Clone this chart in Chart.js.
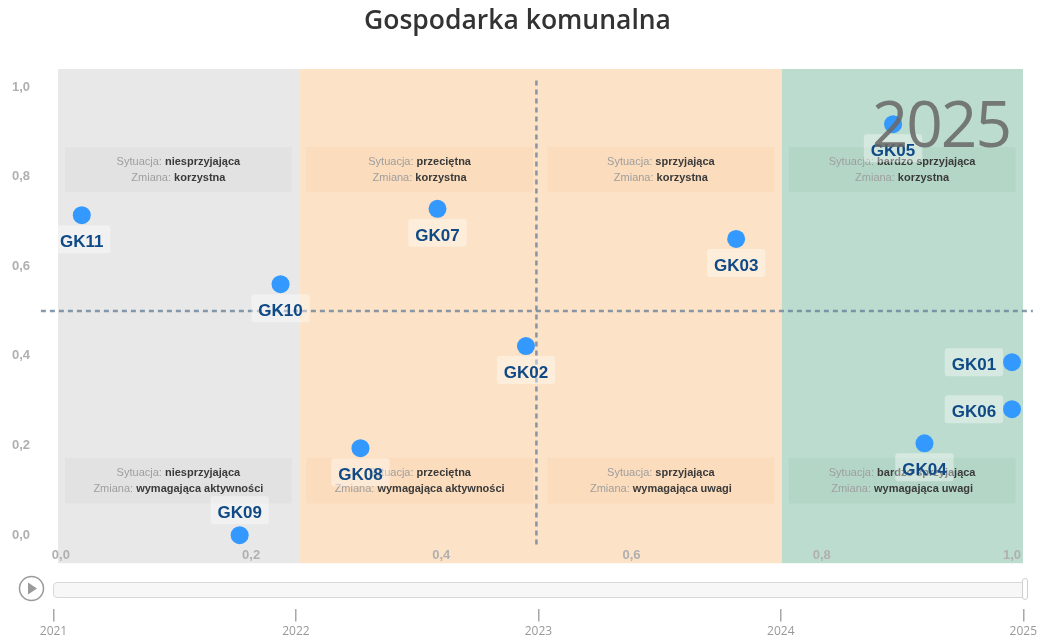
<!DOCTYPE html>
<html lang="pl">
<head>
<meta charset="utf-8">
<title>Gospodarka komunalna</title>
<script src="https://cdn.jsdelivr.net/npm/chart.js@4.4.1/dist/chart.umd.min.js"></script>
<style>
  html, body { margin: 0; padding: 0; background: #fff; }
  body { width: 1040px; height: 639px; position: relative; overflow: hidden; font-family: 'Open Sans', sans-serif; }
  #main { position: absolute; left: 0; top: 0; }
  #years { position: absolute; left: 0; top: 572px; }
  .play { position: absolute; left: 18px; top: 575px; }
  .track { position: absolute; left: 53px; top: 582px; width: 972px; height: 14px;
           background: #f7f7f7; border: 1px solid #d8d8d8; border-radius: 4px; }
  .handle { position: absolute; left: 1022px; top: 578px; width: 4px; height: 20px;
            background: #fff; border: 1px solid #cfcfcf; border-radius: 3px; }
</style>
</head>
<body>
<canvas id="main" width="1040" height="574"></canvas>
<canvas id="years" width="1040" height="70"></canvas>

<svg class="play" width="27" height="27" viewBox="0 0 27 27">
  <circle cx="13.5" cy="13.5" r="12" fill="#fff" stroke="#9a9a9a" stroke-width="1.5"/>
  <path d="M10 7.5 L19 13.5 L10 19.5 Z" fill="#9a9a9a"/>
</svg>
<div class="track"></div>
<div class="handle"></div>

<script>
// ------------------------------------------------------------
//  data
// ------------------------------------------------------------
const codes   = ['GK01', 'GK02', 'GK03', 'GK04', 'GK05', 'GK06', 'GK07', 'GK08', 'GK09', 'GK10', 'GK11'];
const xVals   = [1.0,   0.489, 0.710, 0.908, 0.875, 1.0,   0.396, 0.315, 0.188, 0.231, 0.022];
const yVals   = [0.386, 0.422, 0.661, 0.205, 0.917, 0.281, 0.728, 0.194, 0.0,   0.560, 0.714];
const labelAt = ['left', 'below', 'below', 'below', 'below', 'left', 'below', 'below', 'above', 'below', 'below'];

const axisTicks = [0, 0.2, 0.4, 0.6, 0.8, 1.0];
const midValue  = 0.5;
const midSpan   = [-0.021, 1.022];

const situations = ['niesprzyjająca', 'przeciętna', 'sprzyjająca', 'bardzo sprzyjająca'];
const changesTop = ['korzystna', 'korzystna', 'korzystna', 'korzystna'];
const changesBot = ['wymagająca aktywności', 'wymagająca aktywności', 'wymagająca uwagi', 'wymagająca uwagi'];

const years     = [2021, 2022, 2023, 2024, 2025];
const frameYear = '2025';

// ------------------------------------------------------------
//  look
// ------------------------------------------------------------
const bands = [
  { from: 0,    to: 0.25, fill: '#e8e8e8', box: 'rgba(0,0,0,0.025)' },
  { from: 0.25, to: 0.75, fill: '#fce2c6', box: 'rgba(245,185,120,0.12)' },
  { from: 0.75, to: 1,    fill: '#bcdccf', box: 'rgba(90,150,120,0.08)' },
];
const SANS = "'Liberation Sans', Arial, sans-serif";
const fmt  = v => v.toFixed(1).replace('.', ',');

function rrect(ctx, x, y, w, h, r) {
  ctx.beginPath();
  ctx.moveTo(x + r, y);
  ctx.arcTo(x + w, y, x + w, y + h, r);
  ctx.arcTo(x + w, y + h, x, y + h, r);
  ctx.arcTo(x, y + h, x, y, r);
  ctx.arcTo(x, y, x + w, y, r);
  ctx.closePath();
}

// background bands (paper fractions of the plot area)
const bandPlugin = {
  id: 'bands',
  beforeDraw(chart) {
    const { ctx, chartArea: a } = chart;
    const w = a.right - a.left;
    ctx.save();
    bands.forEach(b => {
      ctx.fillStyle = b.fill;
      ctx.fillRect(a.left + b.from * w, a.top, (b.to - b.from) * w, a.bottom - a.top);
    });
    ctx.restore();
  }
};

// quadrant description boxes
const quadPlugin = {
  id: 'quads',
  beforeDatasetsDraw(chart) {
    const { ctx, chartArea: a } = chart;
    const w = a.right - a.left, h = a.bottom - a.top, q = w / 4;
    const rows = [
      { top: 0.158, bot: 0.249, texts: changesTop },
      { top: 0.787, bot: 0.879, texts: changesBot },
    ];
    ctx.save();
    rows.forEach(r => {
      situations.forEach((s, i) => {
        const bx = a.left + i * q + 7, bw = q - 14.5;
        const by = a.top + r.top * h, bh = (r.bot - r.top) * h;
        const band = bands.find(b => (i + 0.5) / 4 >= b.from && (i + 0.5) / 4 <= b.to);
        ctx.fillStyle = band.box;
        ctx.fillRect(bx, by, bw, bh);
        const cx = bx + bw / 2, cy = by + bh / 2;
        drawPair(ctx, 'Sytuacja: ', s, cx, cy - 8);
        drawPair(ctx, 'Zmiana: ', r.texts[i], cx, cy + 8);
      });
    });
    ctx.restore();
  }
};

function drawPair(ctx, lead, val, cx, cy) {
  ctx.textBaseline = 'middle';
  ctx.textAlign = 'left';
  ctx.font = '11px ' + SANS;
  const w1 = ctx.measureText(lead).width;
  ctx.font = 'bold 11px ' + SANS;
  const w2 = ctx.measureText(val).width;
  const x0 = cx - (w1 + w2) / 2;
  ctx.font = '11px ' + SANS;
  ctx.fillStyle = '#9e9e9e';
  ctx.fillText(lead, x0, cy);
  ctx.font = 'bold 11px ' + SANS;
  ctx.fillStyle = '#3a3a3a';
  ctx.fillText(val, x0 + w1, cy);
}

// point labels + frame year
const labelPlugin = {
  id: 'pointLabels',
  afterDatasetsDraw(chart) {
    const { ctx } = chart;
    const meta = chart.getDatasetMeta(0);
    ctx.save();
    ctx.font = 'bold 17px ' + SANS;
    ctx.textAlign = 'center';
    ctx.textBaseline = 'middle';
    meta.data.forEach((pt, i) => {
      let cx = pt.x, cy = pt.y;
      if (labelAt[i] === 'below') cy += 24;
      else if (labelAt[i] === 'above') cy -= 25;
      else if (labelAt[i] === 'left') cx -= 38;
      const tw = ctx.measureText(codes[i]).width + 14, th = 28;
      ctx.fillStyle = 'rgba(255,255,255,0.38)';
      rrect(ctx, cx - tw / 2, cy - th / 2, tw, th, 3);
      ctx.fill();
      ctx.fillStyle = '#0f4a86';
      ctx.fillText(codes[i], cx, cy + 3);
    });

    // big frame label
    ctx.font = "400 64px 'Open Sans', sans-serif";
    ctx.letterSpacing = '-2px';
    ctx.textAlign = 'right';
    ctx.textBaseline = 'alphabetic';
    ctx.fillStyle = 'rgba(105,105,105,0.88)';
    ctx.fillText(frameYear, 1010, 147);
    ctx.restore();
  }
};

const lineStyle = {
  showLine: true,
  pointRadius: 0,
  borderColor: 'rgba(105,130,155,0.8)',
  borderWidth: 2.5,
  borderDash: [5, 4],
  clip: false,
  order: 2,
};

new Chart(document.getElementById('main'), {
  type: 'scatter',
  data: {
    datasets: [
      {
        label: 'Gospodarka komunalna',
        data: codes.map((c, i) => ({ x: xVals[i], y: yVals[i] })),
        pointRadius: 9,
        pointHoverRadius: 9,
        backgroundColor: '#3399ff',
        borderWidth: 0,
        order: 1,
      },
      { ...lineStyle, data: midSpan.map(v => ({ x: midValue, y: v })) },
      { ...lineStyle, data: midSpan.map(v => ({ x: v, y: midValue })) },
    ]
  },
  options: {
    responsive: false,
    animation: false,
    layout: { padding: { left: 12, right: 17, top: 0, bottom: 0 } },
    plugins: {
      legend: { display: false },
      tooltip: { enabled: false },
      title: {
        display: true,
        text: 'Gospodarka komunalna',
        color: '#333',
        font: { family: "'Open Sans', sans-serif", size: 26.5, weight: '600' },
        padding: { top: 6, bottom: 31.2 },
      },
    },
    scales: {
      x: {
        type: 'linear',
        min: -0.003,
        max: 1.0116,
        afterBuildTicks: s => { s.ticks = axisTicks.map(v => ({ value: v })); },
        afterFit: s => { s.height = 0; },
        grid: { display: false, drawTicks: false },
        border: { display: false },
        ticks: {
          mirror: true,      // labels sit inside the plot, like the original
          padding: 0,
          color: '#b0b0b0',
          font: { family: SANS, size: 13, weight: 'bold' },
          callback: v => fmt(v),
        },
      },
      y: {
        type: 'linear',
        min: -0.0625,
        max: 1.040,
        afterBuildTicks: s => { s.ticks = axisTicks.map(v => ({ value: v })); },
        afterFit: s => { s.width = 46; },
        grid: { display: false },
        border: { display: false },
        ticks: {
          crossAlign: 'far',
          color: '#b0b0b0',
          font: { family: SANS, size: 13, weight: 'bold' },
          callback: v => fmt(v),
        },
      },
    },
  },
  plugins: [bandPlugin, quadPlugin, labelPlugin],
});

// year slider axis
new Chart(document.getElementById('years'), {
  type: 'scatter',
  data: { datasets: [] },
  options: {
    responsive: false,
    animation: false,
    layout: { padding: { left: 53.5, right: 16.5, top: 0, bottom: 0 } },
    plugins: { legend: { display: false }, tooltip: { enabled: false } },
    scales: {
      x: {
        type: 'linear',
        min: years[0],
        max: years[years.length - 1],
        afterBuildTicks: s => { s.ticks = years.map(v => ({ value: v })); },
        grid: { drawOnChartArea: false, tickLength: 13, color: '#a8a8a8', lineWidth: 1.5 },
        border: { display: false },
        ticks: {
          padding: 3,
          color: '#999',
          font: { family: "'Open Sans', sans-serif", size: 12 },
          callback: v => String(v),
        },
      },
      y: { display: false },
    },
  },
});
</script>
</body>
</html>
